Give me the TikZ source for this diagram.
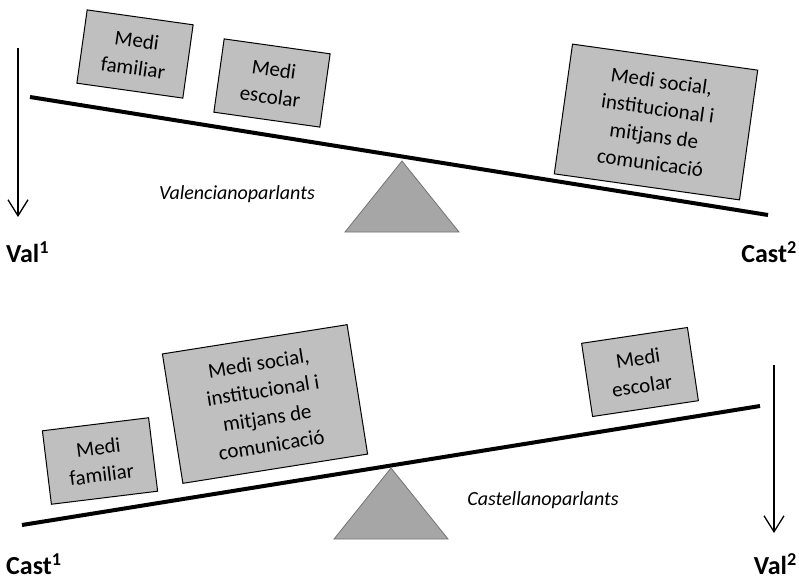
\documentclass[tikz,border=0pt]{standalone}
\usepackage{fontspec}
\setmainfont{Carlito}
\usetikzlibrary{arrows.meta}
\begin{document}
\begin{tikzpicture}[x=1pt,y=-1pt,
  block/.style={draw=black, line width=1pt, fill=black!25, align=center,
    inner sep=0pt, font=\fontsize{21}{27.5}\selectfont},
  smallblock/.style={block, minimum width=107pt, minimum height=74pt},
  bigblock/.style={block, minimum width=187pt, minimum height=131pt},
  beam/.style={line width=4pt},
  fulcrum/.style={draw=black!55, line width=0.8pt, fill=black!35},
  fall/.style={line width=1.3pt, -{Straight Barb[length=16pt,width=20pt,line width=1.3pt]}},
  endlabel/.style={font=\fontsize{26}{30}\selectfont\bfseries, inner sep=0pt},
  group/.style={font=\fontsize{20}{24}\selectfont\itshape, inner sep=0pt}
]
\useasboundingbox (0,0) rectangle (799,580);

% ---- upper balance: Valencianoparlants ----
\coordinate (ual) at (30,97);
\coordinate (uar) at (768,215);
\draw[beam] (ual) -- (uar);
\coordinate (uft) at (402,161);
\coordinate (ufl) at (345,232);
\coordinate (ufr) at (459,232);
\draw[fulcrum] (uft) -- (ufr) -- (ufl) -- cycle;

\node[smallblock, rotate=-8] (ufam) at (135,54) {Medi\\familiar};
\node[smallblock, rotate=-8] (uesc) at (272,83) {Medi\\escolar};
\node[bigblock, rotate=-8] (usoc) at (656,122) {Medi social,\\institucional i\\mitjans de\\comunicació};

\node[group] (ugrp) at (237,194) {Valencianoparlants};

\coordinate (uarrtop) at (18,48);
\coordinate (uarrbot) at (18,217);
\draw[fall] (uarrtop) -- (uarrbot);
\node[endlabel, anchor=west] (uval) at (6,252) {Val\textsuperscript{1}};
\node[endlabel, anchor=east] (ucast) at (797,252) {Cast\textsuperscript{2}};

% ---- lower balance: Castellanoparlants ----
\coordinate (lal) at (22,525);
\coordinate (lar) at (760,406);
\draw[beam] (lal) -- (lar);
\coordinate (lft) at (391,468);
\coordinate (lfl) at (334,539);
\coordinate (lfr) at (448,539);
\draw[fulcrum] (lft) -- (lfr) -- (lfl) -- cycle;

\node[smallblock, rotate=7] (lfam) at (100,461) {Medi\\familiar};
\node[bigblock, rotate=9] (lsoc) at (265,404) {Medi social,\\institucional i\\mitjans de\\comunicació};
\node[smallblock, rotate=8.5] (lesc) at (640,372) {Medi\\escolar};

\node[group] (lgrp) at (543,500) {Castellanoparlants};

\coordinate (larrtop) at (774,365);
\coordinate (larrbot) at (774,533);
\draw[fall] (larrtop) -- (larrbot);
\node[endlabel, anchor=west] (lcast) at (6,564) {Cast\textsuperscript{1}};
\node[endlabel, anchor=east] (lval) at (797,564) {Val\textsuperscript{2}};
\end{tikzpicture}
\end{document}
